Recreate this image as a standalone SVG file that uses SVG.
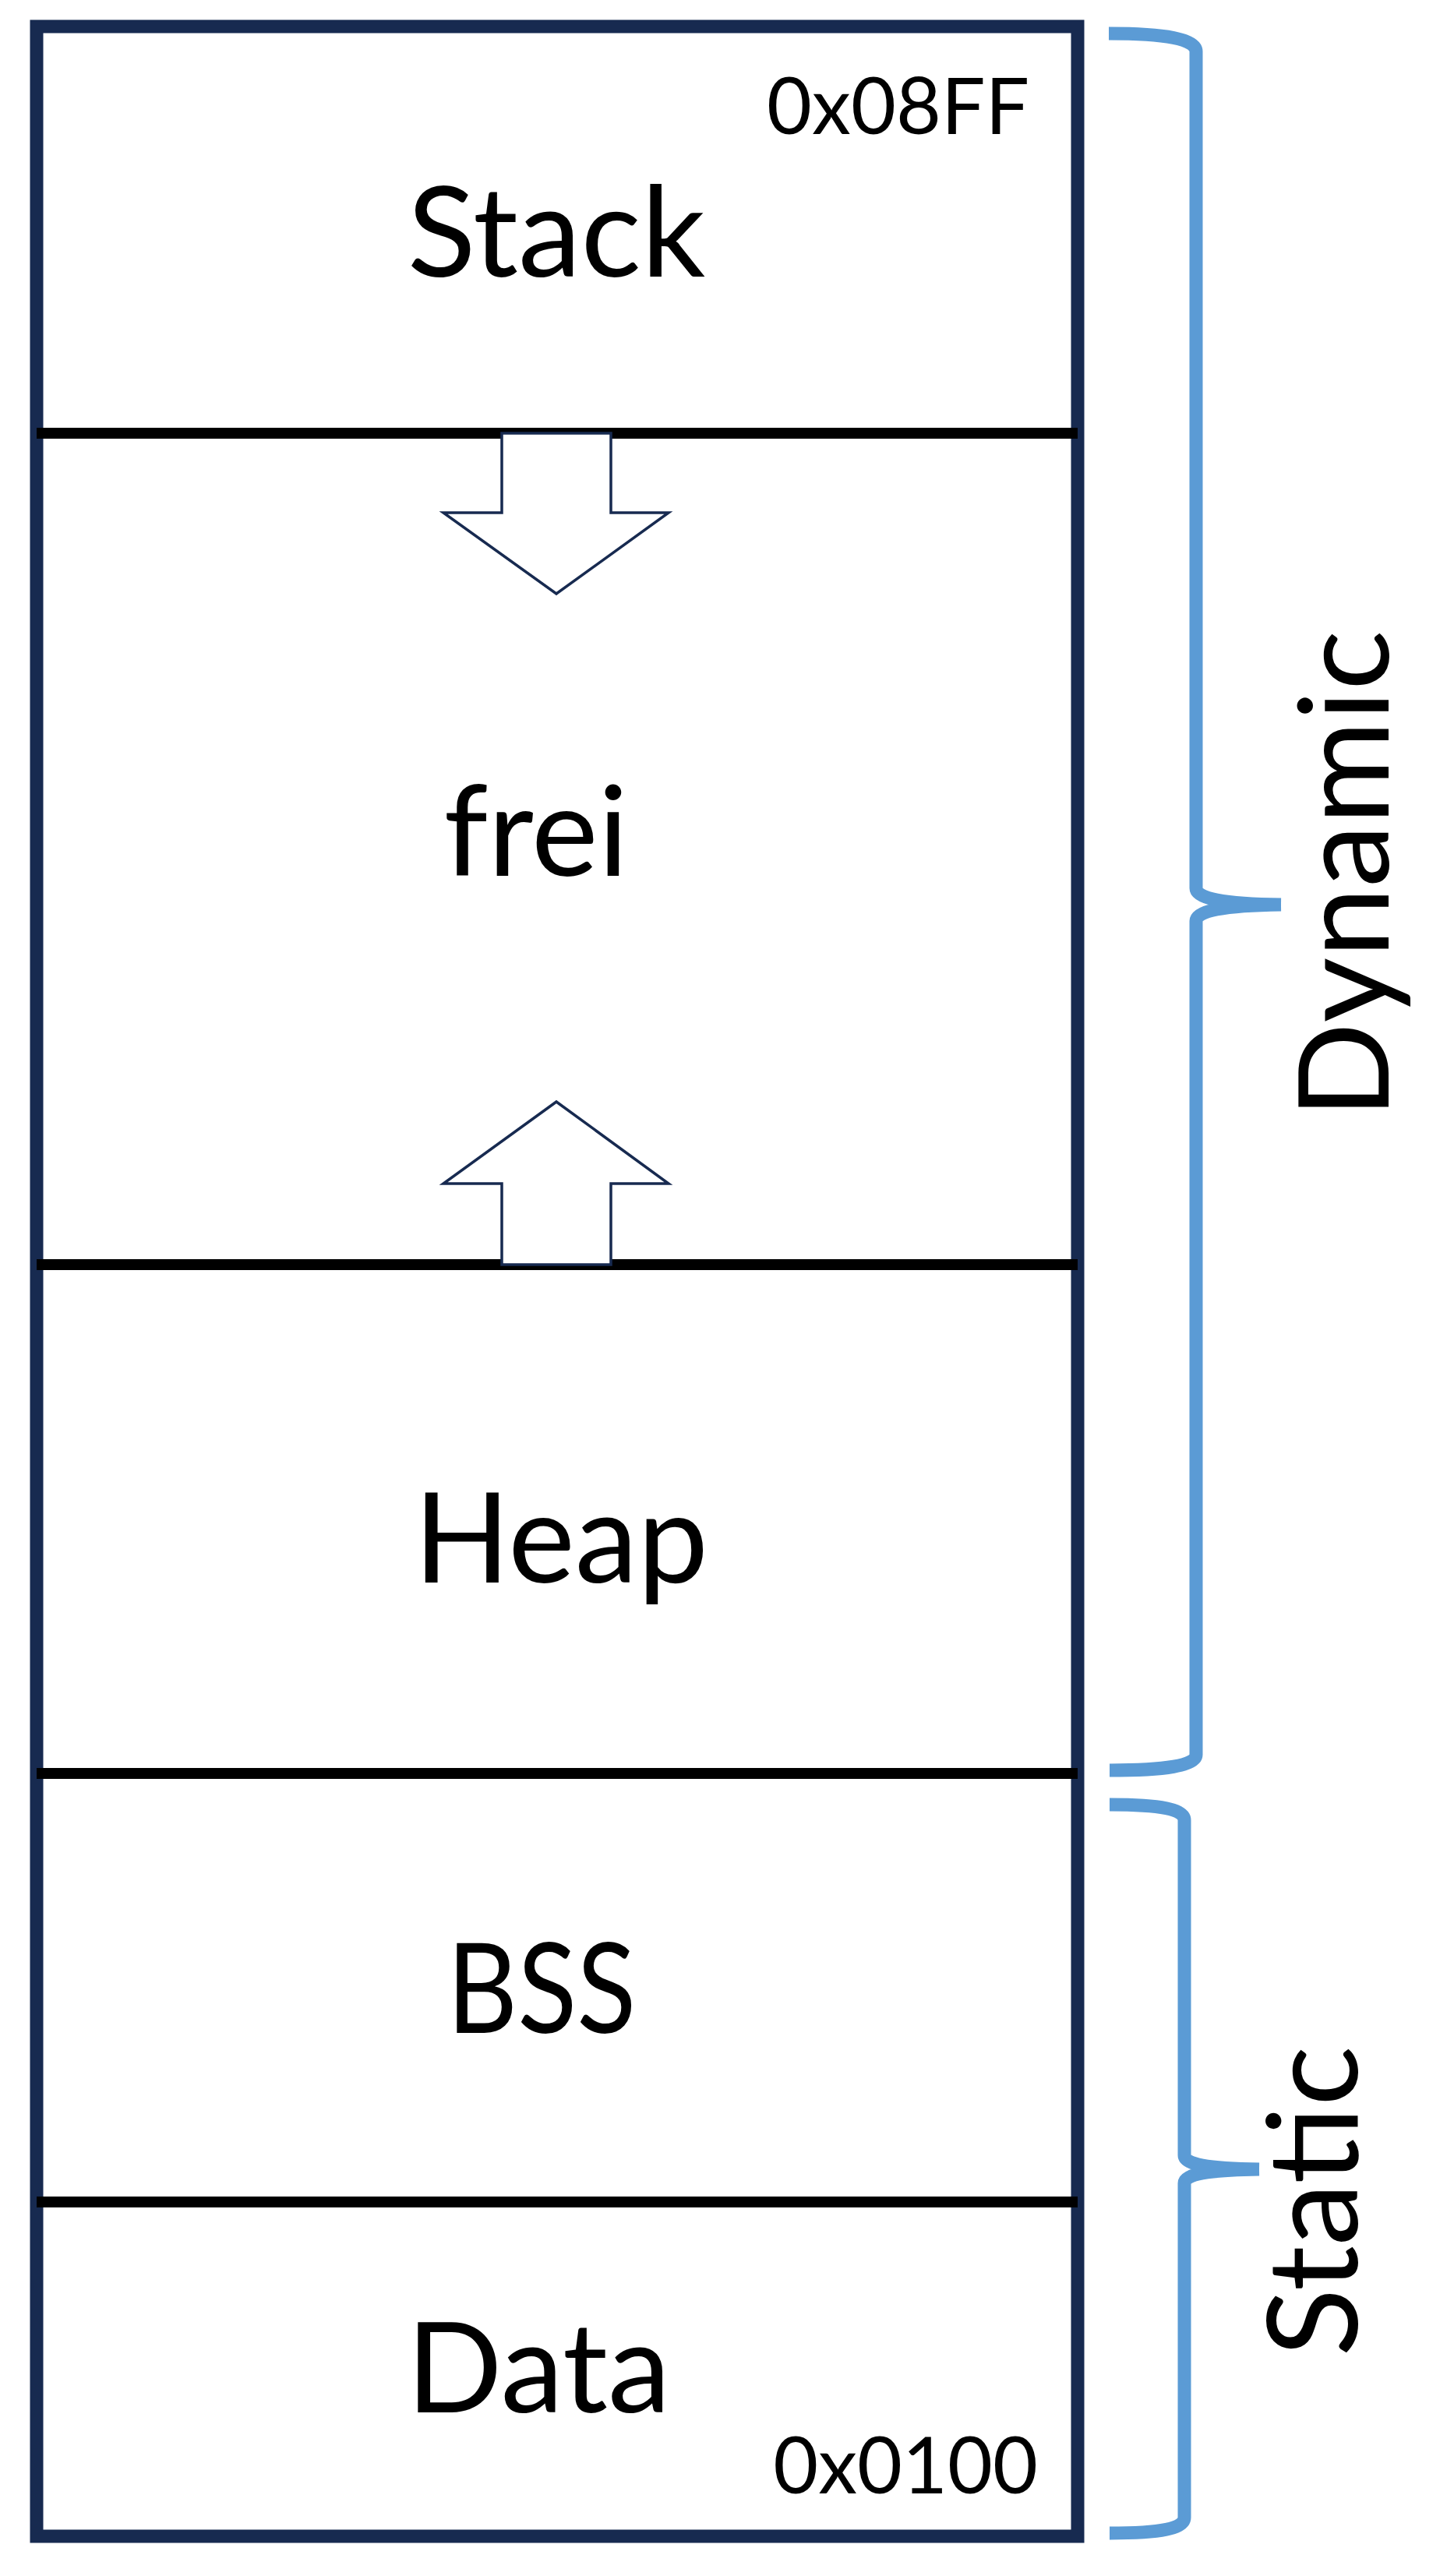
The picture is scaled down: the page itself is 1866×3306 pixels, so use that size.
<svg xmlns="http://www.w3.org/2000/svg" width="1866" height="3306" viewBox="0 0 1866 3306">
<style>
.frame{fill:#ffffff;stroke:#172a50;stroke-width:17}
.div{stroke:#000000;stroke-width:14}
.arrow{fill:#ffffff;stroke:#172a50;stroke-width:3.5;stroke-linejoin:miter}
.brace{fill:none;stroke:#5b9bd5;stroke-width:17;stroke-linecap:butt;stroke-linejoin:round}
.lbl{font-family:Lato,"Liberation Sans",sans-serif;font-size:162px;fill:#000000;text-anchor:middle}
.addr{font-family:Lato,"Liberation Sans",sans-serif;font-size:100px;fill:#000000;text-anchor:end}
</style>
<rect width="1866" height="3306" fill="#ffffff"/>
<g id="memory">
<rect class="frame" x="47" y="34" width="1336" height="3221"/>
</g>
<g id="dividers">
<line class="div" x1="47" y1="556" x2="1383" y2="556"/>
<line class="div" x1="47" y1="1623" x2="1383" y2="1623"/>
<line class="div" x1="47" y1="2276" x2="1383" y2="2276"/>
<line class="div" x1="47" y1="2826" x2="1383" y2="2826"/>
</g>
<g id="stack">
<text class="lbl" x="714" y="355">Stack</text>
<text class="addr" x="1321" y="172">0x08FF</text>
</g>
<g id="frei">
<text class="lbl" x="688" y="1124">frei</text>
</g>
<g id="heap">
<text class="lbl" x="720" y="2031">Heap</text>
</g>
<g id="bss">
<text class="lbl" x="695" y="2609" textLength="243" lengthAdjust="spacingAndGlyphs">BSS</text>
</g>
<g id="data">
<text class="lbl" x="691" y="3096">Data</text>
<text class="addr" x="1332" y="3200">0x0100</text>
</g>
<g id="connectors">
<polygon class="arrow" points="644,556 784,556 784,658 858,658 714,762 569,658 644,658"/>
<polygon class="arrow" points="714,1414 858,1519 784,1519 784,1623 644,1623 644,1519 569,1519"/>
</g>
<g id="dynamic">
<path class="brace" d="M1423,43 C1495,43 1535,50 1535,66 L1535,1140 C1535,1153 1570,1160 1644,1161 M1644,1161 C1570,1162 1535,1169 1535,1182 L1535,2252 C1535,2266 1495,2272 1424,2272"/>
<text class="lbl" transform="translate(1782,1122) rotate(-90)" x="0" y="0">Dynamic</text>
</g>
<g id="static">
<path class="brace" d="M1424,2316 C1490,2316 1520,2322 1520,2336 L1520,2766 C1520,2778 1550,2783 1616,2784 M1616,2784 C1550,2785 1520,2790 1520,2802 L1520,3231 C1520,3245 1490,3251 1424,3251"/>
<text class="lbl" transform="translate(1742,2825) rotate(-90)" x="0" y="0">Static</text>
</g>
</svg>
